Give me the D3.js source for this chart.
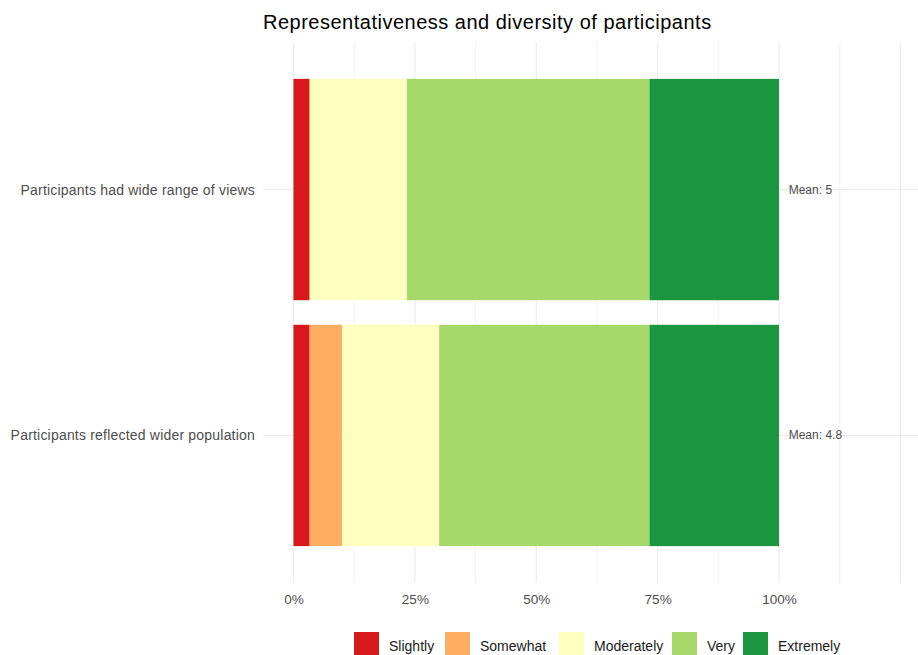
<!DOCTYPE html>
<html>
<head>
<meta charset="utf-8">
<script src="https://cdn.jsdelivr.net/npm/d3@7"></script>
<style>
  html, body { margin: 0; padding: 0; background: #fff; }
  svg { display: block; font-family: "Liberation Sans", Arial, sans-serif; }
</style>
</head>
<body>
<svg id="chart" width="918" height="655"></svg>
<script>
// ---- Data ----
const categories = ["Participants had wide range of views", "Participants reflected wider population"];
const levels = ["Slightly", "Somewhat", "Moderately", "Very", "Extremely"];
const slightly   = [3.33, 3.33];
const somewhat   = [0, 6.67];
const moderately = [20.0, 20.0];
const very       = [50.0, 43.33];
const extremely  = [26.67, 26.67];
const means = ["5", "4.8"];
const xTicks = [0, 0.25, 0.5, 0.75, 1.0];
const xTickLabels = ["0%", "25%", "50%", "75%", "100%"];
const colors = ["#d7191c", "#fdae61", "#ffffbf", "#a6d96a", "#1a9641"];

const seriesVals = [slightly, somewhat, moderately, very, extremely];
const rows = categories.map((c, i) => {
  const r = { category: c };
  levels.forEach((l, k) => { r[l] = seriesVals[k][i] / 100; });
  return r;
});
const stacked = d3.stack().keys(levels)(rows);

// ---- Layout ----
const svg = d3.select("#chart");
const panel = { left: 263, right: 918, top: 42, bottom: 583 };

const x = d3.scaleLinear().domain([0, 1]).range([293.5, 779]);
const y = d3.scaleLinear().domain([0.4, 2.6]).range([panel.top, panel.bottom]);
const barH = (y(2) - y(1)) * 0.9;
const color = d3.scaleOrdinal().domain(levels).range(colors);

// gridlines
const gridG = svg.append("g");
const minor = [0.125, 0.375, 0.625, 0.875, 1.125];
const major = [0, 0.25, 0.5, 0.75, 1.0, 1.25];
gridG.selectAll("line.minor").data(minor).enter().append("line")
  .attr("x1", d => x(d)).attr("x2", d => x(d))
  .attr("y1", panel.top).attr("y2", panel.bottom)
  .attr("stroke", "#ebebeb").attr("stroke-width", 0.6);
gridG.selectAll("line.major").data(major).enter().append("line")
  .attr("x1", d => x(d)).attr("x2", d => x(d))
  .attr("y1", panel.top).attr("y2", panel.bottom)
  .attr("stroke", "#ebebeb").attr("stroke-width", 1.1);
gridG.selectAll("line.h").data(categories).enter().append("line")
  .attr("x1", panel.left).attr("x2", panel.right)
  .attr("y1", (d, i) => y(i + 1)).attr("y2", (d, i) => y(i + 1))
  .attr("stroke", "#ebebeb").attr("stroke-width", 1.1);

// bars
svg.append("g").selectAll("g").data(stacked).enter().append("g")
  .attr("fill", d => color(d.key))
  .selectAll("rect").data(d => d).enter().append("rect")
  .attr("x", d => x(d[0]))
  .attr("width", d => Math.max(0, x(d[1]) - x(d[0])))
  .attr("y", (d, i) => y(i + 1) - barH / 2)
  .attr("height", barH);

// mean labels
svg.append("g").selectAll("text").data(means).enter().append("text")
  .attr("x", x(1.02))
  .attr("y", (d, i) => y(i + 1) + 4)
  .attr("font-size", 12).attr("fill", "#4d4d4d")
  .text(d => "Mean: " + d);

// y-axis labels
svg.append("g").selectAll("text").data(categories).enter().append("text")
  .attr("x", 255)
  .attr("y", (d, i) => y(i + 1) + 5)
  .attr("text-anchor", "end")
  .attr("font-size", 14).attr("letter-spacing", 0.2).attr("fill", "#4d4d4d")
  .text(d => d);

// x axis
const xAxis = d3.axisBottom(x).tickValues(xTicks)
  .tickFormat((d, i) => xTickLabels[i]).tickSize(0).tickPadding(0);
const ax = svg.append("g").attr("transform", `translate(0, ${panel.bottom + 21})`).call(xAxis);
ax.select(".domain").remove();
ax.selectAll("text").attr("font-size", 13.5).attr("fill", "#4d4d4d")
  .attr("font-family", "Liberation Sans, Arial, sans-serif").attr("dy", 0);

// title
svg.append("text").attr("x", 263).attr("y", 29)
  .attr("font-size", 20).attr("letter-spacing", 0.5).attr("fill", "#000")
  .text("Representativeness and diversity of participants");

// legend
const legendX = [354, 445, 559, 672, 743];
const lg = svg.append("g").selectAll("g").data(levels).enter().append("g")
  .attr("transform", (d, i) => `translate(${legendX[i]}, 632)`);
lg.append("rect").attr("width", 25).attr("height", 24).attr("fill", d => color(d));
lg.append("text").attr("x", 35).attr("y", 19)
  .attr("font-size", 14).attr("fill", "#1a1a1a").text(d => d);
</script>
</body>
</html>
